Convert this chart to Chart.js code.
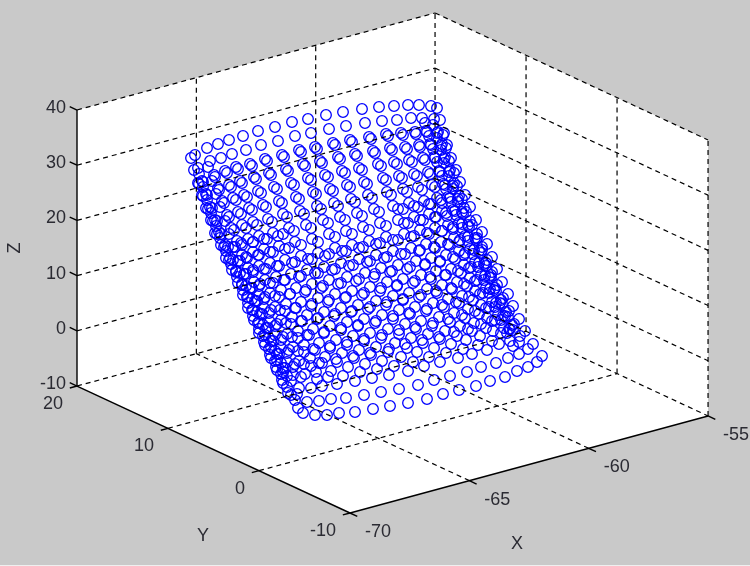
<!DOCTYPE html>
<html><head><meta charset="utf-8">
<style>html,body{margin:0;padding:0;background:#c9c9c9;overflow:hidden}#w{position:absolute;left:0;top:0;width:750px;height:566px}</style>
<script src="https://cdn.jsdelivr.net/npm/chart.js@4"></script>
</head><body><div id="w"><canvas id="c" width="750" height="566"></canvas></div>
<script>
const xTicks=[-70,-65,-60,-55];
const yTicks=[-10,0,10,20];
const zTicks=[-10,0,10,20,30,40];
// surface, in view-plane units, one list per column
const sheetH=[
[191,194,198,202,206,211,215,221,226,232,238,243,248,254,259,265,271,277,283,291,298],
[195,198,202,206,210,215,219,225,230,236,242,247,252,258,263,269,275,281,287,295,303],
[207,210,214,218,222,227,231,237,242,248,254,259,264,270,275,281,287,293,299,307,315],
[218,221,225,229,233,238,242,248,253,259,265,270,275,281,287,293,299,305,311,319,327],
[229,232,236,240,244,249,253,259,264,270,276,281,286,292,298,304,310,316,322,331,339],
[243,246,250,254,258,263,268,273,279,285,291,296,301,307,313,319,325,331,337,346,355],
[258,261,265,269,274,279,283,289,295,301,307,312,318,324,330,336,342,348,355,364,373],
[275,278,282,286,291,296,300,306,312,318,324,329,335,341,347,353,359,365,372,381,390],
[292,295,299,303,308,313,317,323,329,335,341,347,352,358,364,370,376,382,389,399,408],
[308,311,315,320,325,330,334,340,346,352,359,365,370,376,382,388,395,401,408,418,427],
[326,329,333,338,342,347,351,357,363,369,376,381,387,393,399,405,411,417,424,434,443],
[343,346,350,355,359,364,368,374,380,386,393,398,403,409,415,421,428,434,440,450,459],
[362,365,369,373,378,383,387,393,398,404,411,416,421,427,433,439,445,451,458,467,476],
[379,382,386,390,394,399,403,409,414,420,426,431,436,442,448,454,460,466,472,481,490],
[394,397,401,405,409,414,418,424,429,435,441,446,451,457,462,468,474,480,487,496,505],
[408,411,415,419,423,428,432,437,442,448,454,459,464,470,475,481,487,493,499,508,517],
[419,422,426,430,434,439,443,448,453,459,465,470,475,481,486,492,498,504,510,519,528],
[431,434,438,442,445,450,454,459,464,470,477,482,487,492,497,503,509,514,520,528,537],
[437,440,444,447,451,456,460,465,470,476,482,487,492,497,502,508,513,519,525,533,542]];
const sheetV=[
[158,170,183,195,208,220,233,245,258,270,283,295,308,320,333,345,358,370,383,395,408],
[155,168,181,194,207,220,232,245,258,271,284,297,310,323,336,349,361,374,387,400,413],
[148,161,175,188,201,215,228,241,255,268,282,295,308,322,335,348,362,375,388,402,415],
[144,158,171,185,198,212,225,239,252,266,280,293,307,320,334,347,361,374,388,401,415],
[140,154,167,181,195,208,222,236,249,263,277,290,304,317,331,345,358,372,386,399,413],
[136,150,164,177,191,205,219,233,246,260,274,288,302,315,329,343,357,371,384,398,412],
[131,145,159,173,187,201,214,228,242,256,270,284,298,312,326,340,353,367,381,395,409],
[127,141,155,169,183,197,211,225,239,253,267,280,294,308,322,336,350,364,378,392,406],
[122,136,150,164,178,192,206,220,234,248,263,277,291,305,319,333,347,361,375,389,403],
[119,133,147,161,175,189,203,217,231,245,259,273,287,301,315,329,343,357,371,385,399],
[115,129,143,157,171,185,199,213,227,241,255,268,282,296,310,324,338,352,366,380,394],
[112,126,140,154,168,182,195,209,223,237,251,265,279,293,307,321,334,348,362,376,390],
[109,123,137,151,164,178,192,206,220,234,248,261,275,289,303,317,331,344,358,372,386],
[107,121,134,148,162,176,189,203,217,230,244,258,271,285,299,313,326,340,354,367,381],
[106,120,133,147,160,174,187,201,214,228,242,255,269,282,296,309,323,336,350,363,377],
[105,118,132,145,158,172,185,198,211,225,238,251,265,278,291,305,318,331,344,358,371],
[105,118,131,144,157,171,184,197,210,223,236,249,262,275,288,302,315,328,341,354,367],
[106,119,132,144,157,170,183,196,208,221,234,247,260,272,285,298,311,324,336,349,362],
[108,120,133,145,158,170,182,195,207,220,232,244,257,269,282,294,306,319,331,344,356]];
// second layer of the surface, seen through the first
const backH=[
[199,203,208,213,217,224,229,236,242,248,253,259,265,271,277,283],
[203,207,212,217,221,228,233,240,246,252,257,263,269,275,281,287],
[215,219,224,229,234,241,246,253,260,265,271,277,283,289,295,301],
[227,231,236,241,246,253,259,266,273,279,285,291,298,304,311,317],
[238,242,247,252,257,264,270,277,284,290,296,302,309,315,322,328],
[252,256,261,266,272,278,285,292,299,305,311,317,324,330,337,343],
[267,271,277,282,287,294,301,308,315,321,328,334,341,347,354,360],
[284,288,294,299,304,311,318,325,332,338,345,351,358,364,371,377],
[301,305,311,316,321,328,335,342,349,356,362,368,375,381,388,394],
[317,322,328,333,338,345,352,359,367,374,380,386,393,399,407,413],
[335,340,345,350,355,362,369,376,384,390,397,403,410,416,423,429],
[352,357,362,367,372,379,386,393,401,407,413,419,426,432,440,446],
[371,375,381,386,391,398,404,411,419,425,431,437,444,450,457,463],
[388,392,397,402,407,414,420,427,434,440,446,452,459,465,472,478],
[403,407,412,417,422,429,435,442,449,455,461,467,473,479,486,492],
[416,420,425,430,435,441,446,453,460,465,471,477,483,489,495,501],
[427,431,435,440,445,450,455,462,468,474,479,485,490,496,503,509],
[437,441,444,449,453,458,462,468,475,479,484,489,494,500,505,510],
[443,446,449,454,457,462,466,472,477,482,486,491,495,501,506,512]];
const backV=[
[184,196,209,221,234,247,260,272,285,297,310,322,335,347,360,372],
[182,195,208,221,234,247,260,273,286,299,312,325,338,351,363,376],
[177,190,203,217,230,243,257,270,284,297,310,324,337,350,364,377],
[173,187,200,214,228,242,255,269,283,297,311,324,338,352,366,379],
[169,183,197,210,225,239,252,266,280,294,308,321,335,350,363,377],
[166,179,193,207,222,236,249,263,277,292,306,319,333,348,362,376],
[161,175,189,203,217,231,245,259,273,288,302,316,330,345,358,372],
[157,171,185,199,214,228,242,256,270,284,298,312,326,341,355,369],
[152,166,180,194,209,223,237,251,266,281,295,309,323,338,352,366],
[149,163,177,191,206,220,234,248,262,277,291,305,319,334,348,362],
[145,159,173,187,202,216,230,244,258,272,286,300,314,329,343,357],
[142,156,170,184,198,212,226,240,254,269,283,297,311,326,339,353],
[139,153,166,180,195,209,223,237,251,265,279,293,307,322,336,349],
[136,150,164,178,192,206,220,233,247,262,275,289,303,318,331,345],
[135,149,162,176,190,204,217,231,245,259,273,286,300,314,328,341],
[134,147,160,174,187,200,213,227,240,253,267,280,293,307,320,333],
[132,145,158,172,185,198,211,224,237,250,263,276,289,303,316,329],
[133,146,159,172,186,199,212,225,238,251,264,277,290,303,316,329],
[135,148,161,173,186,199,212,225,238,250,263,275,288,300,312,325]];
// third layer, lower half only
const midH=[
[233,238,244,250,255,260,266,271,277,283],
[242,247,253,259,264,269,275,281,287,293],
[253,258,264,270,275,280,286,292,298,304],
[267,273,279,285,290,295,301,307,313,319],
[283,289,295,301,306,312,318,324,330,336],
[312,318,323,329,335,341,347,353],
[329,335,341,346,352,358,364,370],
[346,353,359,364,370,376,382,389],
[363,370,375,381,387,393,399,405],
[380,387,392,397,403,409,415,422],
[398,405,410,415,421,427,433,439],
[403,408,414,420,425,430,436,442,448,454],
[418,423,429,435,440,445,451,456,462,468],
[431,436,442,448,453,458,464,469,475,481],
[442,447,453,459,464,469,475,480,486,492]];
const midV=[
[247,261,274,288,301,314,328,341,354,368],
[245,258,272,286,299,313,326,340,353,367],
[242,255,269,283,296,310,323,337,351,364],
[239,252,266,280,294,308,321,335,349,363],
[234,248,262,276,290,304,318,332,346,359],
[259,273,286,300,314,328,342,356],
[254,269,283,297,311,325,339,353],
[251,265,279,293,307,321,335,349],
[247,261,274,288,302,316,330,344],
[243,257,271,285,299,313,327,340],
[240,254,267,281,295,309,323,337],
[209,223,236,250,264,277,291,305,319,332],
[207,220,234,248,261,275,288,302,315,329],
[204,217,231,244,257,271,284,297,311,324],
[203,216,229,242,255,268,281,294,308,321]];
// dense bands along the left and right rims
const rimH=[
[199,203,207,211,216,220,226,231,237,243,248,253,259,264,270,276,282,288],
[208,212,216,220,225,229,235,240,246,252,257,262,268,273,279,285,291,297],
[425,429,433,437,442,446,451,456,462,468,473,478,484,489,495,501,507,513],
[433,437,441,444,449,453,458,463,469,476,481,486,491,496,502,508,513,519]];
const rimV=[
[174,187,200,213,226,238,251,264,277,290,303,316,329,342,355,367,380,393],
[167,181,194,207,221,234,247,261,274,288,301,314,328,341,354,368,381,394],
[123,136,149,162,176,189,202,215,228,241,254,267,280,293,307,320,333,346],
[125,138,150,163,176,189,202,214,227,240,253,266,278,291,304,317,330,342]];

// MATLAB-like axonometric view: axes units to view-plane units
function project(X,Y,Z){
  return {x:350+(X+70)*23.87+(Y+10)*-9.1, y:513+(X+70)*-6.47+(Y+10)*-4.233+(Z+10)*-5.52};
}
const seg=(a,b)=>[project(...a),project(...b)];
const Xmin=-70,Xmax=-55,Ymin=-10,Ymax=20,Zmin=-10,Zmax=40;
const gridSegs=[];
zTicks.forEach(z=>{gridSegs.push(seg([Xmin,Ymax,z],[Xmax,Ymax,z]));gridSegs.push(seg([Xmax,Ymax,z],[Xmax,Ymin,z]));});
xTicks.slice(1).forEach(x=>{gridSegs.push(seg([x,Ymax,Zmin],[x,Ymax,Zmax]));if(x<Xmax)gridSegs.push(seg([x,Ymin,Zmin],[x,Ymax,Zmin]));});
yTicks.slice(0,3).forEach(y=>{gridSegs.push(seg([Xmax,y,Zmin],[Xmax,y,Zmax]));if(y>Ymin)gridSegs.push(seg([Xmin,y,Zmin],[Xmax,y,Zmin]));});
const axisSegs=[
 seg([Xmin,Ymax,Zmin],[Xmin,Ymax,Zmax]),
 seg([Xmin,Ymax,Zmin],[Xmin,Ymin,Zmin]),
 seg([Xmin,Ymin,Zmin],[Xmax,Ymin,Zmin])];
zTicks.forEach(z=>axisSegs.push(seg([Xmin,Ymax,z],[Xmin,Ymax+0.8,z])));
yTicks.forEach(y=>axisSegs.push(seg([Xmin,y,Zmin],[Xmin-0.3,y,Zmin])));
xTicks.forEach(x=>axisSegs.push(seg([x,Ymin,Zmin],[x,Ymin-0.8,Zmin])));

const pts=[];
[[sheetH,sheetV],[backH,backV],[midH,midV],[rimH,rimV]].forEach(([H,V])=>H.forEach((col,j)=>col.forEach((h,k)=>pts.push({x:h,y:V[j][k]}))));
const lineDs=(segs,dash,w)=>segs.map(s=>({type:'line',data:s,borderColor:'#000',borderWidth:w,borderDash:dash,pointRadius:0,fill:false,tension:0}));

const labels=[];
zTicks.forEach(z=>{const p=project(Xmin,Ymax,z);labels.push({t:String(z),x:p.x-11,y:p.y-2,a:'right'});});
yTicks.forEach(y=>{const p=project(Xmin,y,Zmin);labels.push({t:String(y),x:p.x-14,y:p.y+18,a:'right'});});
xTicks.forEach(x=>{const p=project(x,Ymin,Zmin);labels.push({t:String(x),x:p.x+15,y:p.y+19,a:'left'});});

const deco={id:'deco',
 beforeDraw(c){const g=c.ctx,sx=c.scales.x,sy=c.scales.y;
  g.save();g.fillStyle='#c9c9c9';g.fillRect(0,0,750,566);
  g.fillStyle='#efefef';g.fillRect(0,565,750,1);
  const poly=[[Xmin,Ymax,Zmax],[Xmax,Ymax,Zmax],[Xmax,Ymin,Zmax],[Xmax,Ymin,Zmin],[Xmin,Ymin,Zmin],[Xmin,Ymax,Zmin]].map(a=>project(...a));
  g.fillStyle='#fff';g.beginPath();poly.forEach((p,i)=>{const X=sx.getPixelForValue(p.x),Y=sy.getPixelForValue(p.y);i?g.lineTo(X,Y):g.moveTo(X,Y);});g.closePath();g.fill();g.restore();},
 afterDraw(c){const g=c.ctx,sx=c.scales.x,sy=c.scales.y;g.save();
  g.fillStyle='#2b2b33';g.font='18px "Liberation Sans"';g.textBaseline='middle';
  labels.forEach(l=>{g.textAlign=l.a;g.fillText(l.t,sx.getPixelForValue(l.x),sy.getPixelForValue(l.y));});
  g.textAlign='center';g.fillText('X',sx.getPixelForValue(517),sy.getPixelForValue(544));g.fillText('Y',sx.getPixelForValue(203),sy.getPixelForValue(536));
  g.translate(sx.getPixelForValue(15),sy.getPixelForValue(248));g.rotate(-Math.PI/2);g.fillText('Z',0,0);g.restore();}};

new Chart(document.getElementById('c'),{type:'scatter',
 data:{datasets:[...lineDs(axisSegs,[],1.4),...lineDs(gridSegs,[5,4],1.2),
  {type:'scatter',data:pts,borderColor:'#0000ff',backgroundColor:'rgba(0,0,0,0)',pointRadius:5.3,pointBorderWidth:1.3,pointHoverRadius:5,showLine:false}]},
 options:{responsive:false,animation:false,events:[],layout:{padding:0,autoPadding:false},
  plugins:{legend:{display:false},tooltip:{enabled:false}},
  scales:{x:{type:'linear',display:false,min:0,max:750},y:{type:'linear',display:false,min:0,max:566,reverse:true}}},
 plugins:[deco]});
</script></body></html>
